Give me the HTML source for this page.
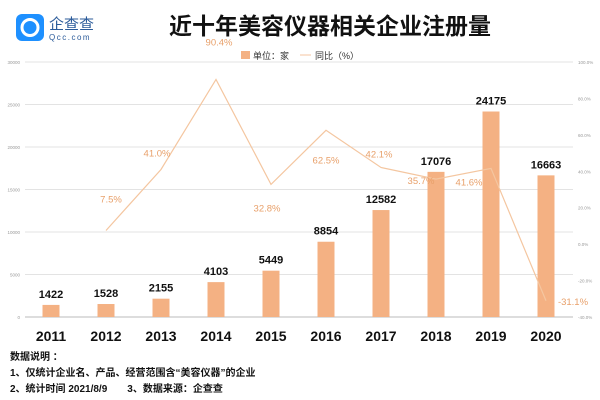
<!DOCTYPE html>
<html><head><meta charset="utf-8"><style>
body{margin:0;width:600px;height:400px;background:#fff;overflow:hidden;font-family:"Liberation Sans","Noto Sans CJK SC",sans-serif;}
svg{position:absolute;left:0;top:0}
</style></head><body>
<svg width="600" height="400">
<g>
<rect x="16" y="14" width="28" height="27" rx="6" fill="#1e90ff"/>
<circle cx="30" cy="27.5" r="8" fill="none" stroke="#fff" stroke-width="3"/>
<text x="49" y="29" font-size="15" fill="#2b5b9a">企查查</text>
<text x="49" y="40" font-size="8" fill="#2b5b9a" letter-spacing="1.5">Qcc.com</text>
</g>
<text x="330" y="34" text-anchor="middle" font-size="23" font-weight="bold" fill="#111">近十年美容仪器相关企业注册量</text>
<g font-size="9" fill="#333">
<rect x="241" y="51" width="9" height="8" fill="#f4b183"/>
<text x="253" y="59">单位：家</text>
<line x1="300" y1="55" x2="311" y2="55" stroke="#f4c6a0"/>
<text x="315" y="59">同比（%）</text>
</g>
<g id="grid"></g><g id="bars"></g><g id="line"></g><g id="labels"></g>
<g font-size="10" font-weight="bold" fill="#111">
<text x="10" y="360">数据说明 ：</text>
<text x="10" y="376">1、仅统计企业名、产品、经营范围含“美容仪器”的企业</text>
<text x="10" y="392">2、统计时间 2021/8/9　　3、数据来源：企查查</text>
</g>
</svg>
<script>
const years=['2011','2012','2013','2014','2015','2016','2017','2018','2019','2020'];
const counts=[1422,1528,2155,4103,5449,8854,12582,17076,24175,16663];
const yoy=[null,7.5,41.0,90.4,32.8,62.5,42.1,35.7,41.6,-31.1];
const leftTicks=['0','5000','10000','15000','20000','25000','30000'];
const rightTicks=['-40.0%','-20.0%','0.0%','20.0%','40.0%','60.0%','80.0%','100.0%'];
const lblDx=[0,5,-4,3,-4,0,-2,-15,-22,27];
const lblDy=[0,-28,-13,-34,27,33,-10,5,17,4];
const NS='http://www.w3.org/2000/svg';
const T=62,B=317,L=25,R=573;
const yL=v=>B-v/30000*(B-T);
const yR=v=>B-(v+40)/140*(B-T);
const xC=i=>51+i*55;
function mk(tag,attrs,parent,txt){const e=document.createElementNS(NS,tag);for(const k in attrs)e.setAttribute(k,attrs[k]);if(txt!=null)e.textContent=txt;document.getElementById(parent).appendChild(e);return e;}
leftTicks.forEach((t,i)=>{const v=+t;const y=yL(v);
 const g=mk('line',{x1:L,x2:R,y1:y,y2:y,stroke:i==0?'#bbb':'#e3e3e3'},'grid');
 
 
 const e=mk('text',{x:20,y:y+2,'font-size':4.5,fill:'#999','text-anchor':'end'},'grid',t);
 
 });
rightTicks.forEach((t,i)=>{const v=parseFloat(t);const e=mk('text',{x:578,y:yR(v)+2,'font-size':4.5,fill:'#999'},'grid',t);
 
 });
years.forEach((yr,i)=>{const x=xC(i);const y=yL(counts[i]);
 const b=mk('rect',{x:x-8.5,y:y,width:17,height:B-y,fill:'#f4b183'},'bars');
 
 
 const v=mk('text',{x:x,y:y-7,'font-size':11,'font-weight':'bold','text-anchor':'middle',fill:'#111'},'labels',counts[i]);
 
 
 const t=mk('text',{x:x,y:341,'font-size':14,'font-weight':'bold','text-anchor':'middle',fill:'#111'},'labels',yr);
 
 
 if(yoy[i]!=null){const p=mk('text',{x:x+lblDx[i],y:yR(yoy[i])+lblDy[i],'font-size':9.5,'text-anchor':'middle',fill:'#e8a06a'},'labels',yoy[i].toFixed(1)+'%');
  
  }
});
let d='';yoy.forEach((v,i)=>{if(v==null)return;d+=(d?'L':'M')+xC(i)+','+yR(v);});
const ln=mk('path',{d:d,fill:'none',stroke:'#f4c6a0','stroke-width':1.2},'line');


</script>
</body></html>
